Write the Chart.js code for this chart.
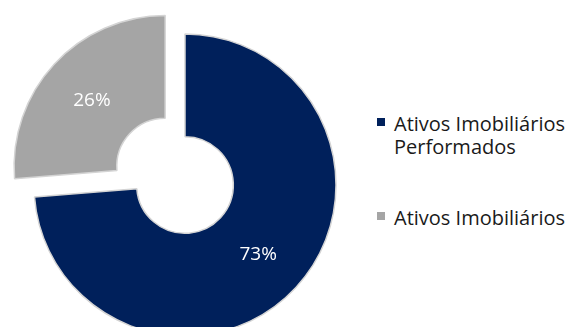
<!DOCTYPE html>
<html>
<head>
<meta charset="utf-8">
<script src="https://cdn.jsdelivr.net/npm/chart.js@4"></script>
<style>
    html, body { margin: 0; padding: 0; background: #fff; overflow: hidden; width: 582px; height: 327px; }
    .chart-container { position: absolute; left: 0; top: 0; width: 370px; height: 370px; }
    .legend { position: absolute; left: 377px; top: 112px; width: 205px; font-family: "Open Sans", sans-serif; font-size: 20px; color: #1a1a1a; }
    .legend-item { position: relative; padding-left: 17px; line-height: 23px; }
    .legend-item + .legend-item { margin-top: 48px; }
    .legend-box { position: absolute; left: 0; top: 6px; width: 8px; height: 8px; }
</style>
</head>
<body>
<div class="chart-container">
    <canvas id="myChart"></canvas>
</div>
<div class="legend" id="legend"></div>
<script>
const labels = ['Ativos Imobiliários Performados', 'Ativos Imobiliários'];
const values = [73, 26];
const valueLabels = ['73%', '26%'];
const colors = ['#00205b', '#a5a5a5'];
const offsets = [0, 108];

// rótulos de percentagem no meio de cada fatia
const sliceLabels = {
    id: 'sliceLabels',
    afterDatasetsDraw(chart) {
        const ctx = chart.ctx;
        const meta = chart.getDatasetMeta(0);
        ctx.save();
        ctx.fillStyle = '#ffffff';
        ctx.font = '19px "Open Sans", sans-serif';
        ctx.textAlign = 'center';
        ctx.textBaseline = 'middle';
        meta.data.forEach((arc, i) => {
            const p = arc.getProps(['x', 'y', 'startAngle', 'endAngle', 'innerRadius', 'outerRadius']);
            const mid = (p.startAngle + p.endAngle) / 2;
            const r = (p.innerRadius + p.outerRadius) / 2 + offsets[i] / 4;
            ctx.fillText(valueLabels[i], p.x + Math.cos(mid) * r, p.y + Math.sin(mid) * r + 2);
        });
        ctx.restore();
    }
};

const ch = document.getElementById('myChart');
const donut = new Chart(ch, {
    type: 'doughnut',
    data: {
        labels: labels,
        datasets: [{
            data: values,
            backgroundColor: colors,
            borderColor: '#d4d4d4',
            borderWidth: 1.5,
            offset: offsets,
            hoverOffset: 0
        }]
    },
    options: {
        responsive: true,
        maintainAspectRatio: false,
        animation: false,
        radius: 151,
        cutout: '32%',
        layout: {padding: 0},
        plugins: {
            legend: {display: false},
            tooltip: {enabled: false}
        }
    },
    plugins: [sliceLabels]
});

const legend = document.getElementById('legend');
labels.forEach((l, i) => {
    const item = document.createElement('div');
    item.className = 'legend-item';
    const box = document.createElement('span');
    box.className = 'legend-box';
    box.style.background = colors[i];
    item.appendChild(box);
    item.appendChild(document.createTextNode(l));
    legend.appendChild(item);
});
</script>
</body>
</html>
